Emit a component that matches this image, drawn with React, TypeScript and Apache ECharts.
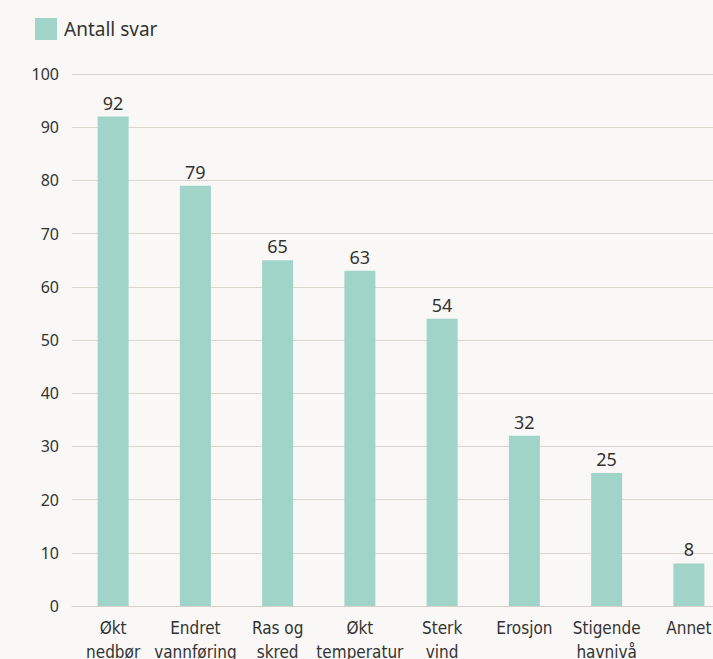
import React, { useEffect, useRef } from "react";
import * as echarts from "echarts";

const categories = [
  "Økt\nnedbør",
  "Endret\nvannføring",
  "Ras og\nskred",
  "Økt\ntemperatur",
  "Sterk\nvind",
  "Erosjon",
  "Stigende\nhavnivå",
  "Annet",
];
const values = [92, 79, 65, 63, 54, 32, 25, 8];
const seriesName = "Antall svar";

export default function App() {
  const ref = useRef<HTMLDivElement>(null);
  useEffect(() => {
    document.body.style.margin = "0";
    document.body.style.overflow = "hidden";
    document.body.style.background = "#f9f8f6";
    const chart = echarts.init(ref.current!, null, { renderer: "svg" });
    chart.setOption({
      animation: false,
      backgroundColor: "#f9f8f6",
      legend: {
        left: 30,
        top: 13,
        itemWidth: 22,
        itemHeight: 22,
        itemGap: 16,
        icon: "rect",
        textStyle: { fontSize: 19, color: "#333", fontFamily: "Noto Sans", padding: [0, 0, 0, 2] },
        data: [seriesName],
      },
      grid: {
        left: 72,
        right: 0,
        top: 74,
        bottom: 53,
        containLabel: false,
        outerBoundsMode: "none",
      },
      xAxis: {
        type: "category",
        data: categories,
        axisTick: { show: false },
        axisLine: { lineStyle: { color: "#d8d0c8", width: 1 } },
        axisLabel: {
          color: "#333",
          fontSize: 17,
          lineHeight: 24,
          margin: 10,
          interval: 0,
          fontFamily: "DejaVu Sans Condensed",
        },
      },
      yAxis: {
        type: "value",
        min: 0,
        max: 100,
        interval: 10,
        axisLabel: { color: "#333", fontSize: 16, margin: 13, fontFamily: "Noto Sans" },
        splitLine: { lineStyle: { color: "#ddd6ce", width: 1 } },
        axisLine: { show: false },
        axisTick: { show: false },
      },
      series: [
        {
          name: seriesName,
          type: "bar",
          data: values,
          barWidth: 31,
          itemStyle: { color: "#a0d4c8" },
          label: {
            show: true,
            position: "top",
            distance: 5,
            color: "#333",
            fontSize: 18,
            fontFamily: "Noto Sans",
          },
        },
      ],
    });
    return () => chart.dispose();
  }, []);
  return (
    <div
      ref={ref}
      style={{ position: "fixed", left: 0, top: 0, width: 730, height: 659 }}
    />
  );
}
